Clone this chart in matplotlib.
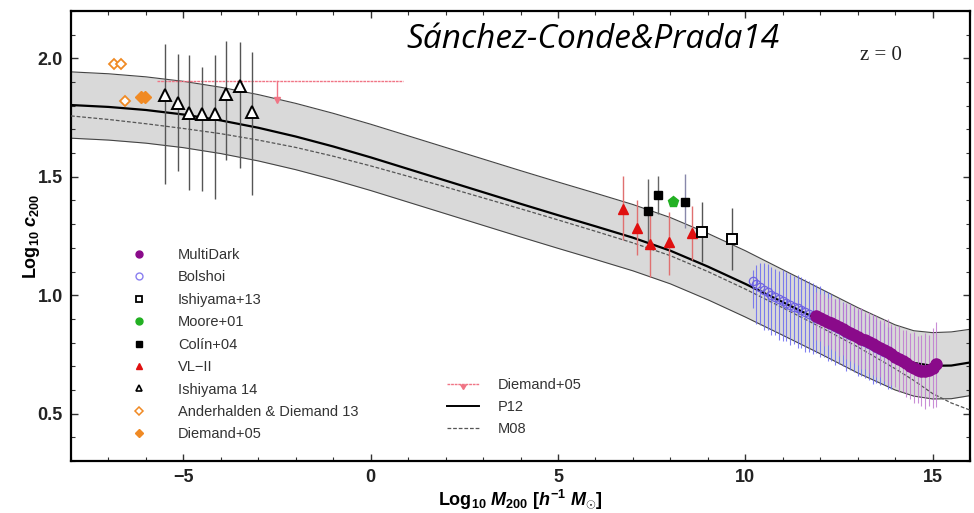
import matplotlib
matplotlib.use("Agg")
import matplotlib.pyplot as plt
from matplotlib.lines import Line2D
import numpy as np

plt.rcParams["font.family"] = ["Liberation Sans", "DejaVu Sans"]
plt.rcParams["mathtext.fontset"] = "custom"
plt.rcParams["mathtext.rm"] = "Liberation Sans:bold"
plt.rcParams["mathtext.it"] = "Liberation Sans:bold:italic"
plt.rcParams["mathtext.bf"] = "Liberation Sans:bold"

# --- model curves: log10 M200 vs log10 c200 ---
model_mass = [-8, -7, -6, -5, -4, -3, -2, -1, 0, 1, 2, 3, 4, 5, 6, 7, 8, 9, 10,
              11, 12, 13, 14, 14.5, 15, 15.5, 16]
p12_c = [1.803, 1.795, 1.782, 1.763, 1.738, 1.707, 1.670, 1.628, 1.582, 1.533,
         1.484, 1.435, 1.386, 1.338, 1.291, 1.243, 1.188, 1.121, 1.048, 0.971,
         0.893, 0.812, 0.740, 0.714, 0.702, 0.703, 0.716]
band_hi = [1.943, 1.935, 1.922, 1.903, 1.878, 1.847, 1.810, 1.768, 1.722, 1.673,
           1.624, 1.575, 1.526, 1.478, 1.431, 1.383, 1.328, 1.261, 1.188, 1.108,
           1.028, 0.948, 0.875, 0.850, 0.842, 0.845, 0.856]
band_lo = [1.663, 1.655, 1.642, 1.623, 1.598, 1.567, 1.530, 1.488, 1.442, 1.393,
           1.344, 1.295, 1.246, 1.198, 1.151, 1.103, 1.048, 0.981, 0.908, 0.831,
           0.753, 0.672, 0.600, 0.574, 0.562, 0.563, 0.576]
m08_c = [1.757, 1.742, 1.724, 1.704, 1.682, 1.655, 1.624, 1.587, 1.546, 1.502,
         1.457, 1.411, 1.365, 1.318, 1.270, 1.221, 1.167, 1.100, 1.026, 0.947,
         0.866, 0.782, 0.690, 0.640, 0.585, 0.545, 0.515]

# --- MultiDark ---
md_mass = [11.9, 12.0, 12.1, 12.2, 12.3, 12.4, 12.5, 12.6, 12.7, 12.8, 12.9, 13.0,
           13.1, 13.2, 13.3, 13.4, 13.5, 13.6, 13.7, 13.8, 13.9, 14.0, 14.1, 14.2,
           14.3, 14.4, 14.5, 14.6, 14.7, 14.8, 14.9, 15.0, 15.1]
md_c = [0.912, 0.905, 0.897, 0.889, 0.881, 0.873, 0.865, 0.857, 0.849, 0.841, 0.833,
        0.825, 0.817, 0.809, 0.801, 0.792, 0.784, 0.776, 0.768, 0.759, 0.750, 0.741,
        0.732, 0.722, 0.712, 0.702, 0.693, 0.686, 0.682, 0.681, 0.684, 0.692, 0.708]
md_err = [0.10, 0.10, 0.11, 0.10, 0.11, 0.11, 0.12, 0.11, 0.12, 0.12, 0.12, 0.12,
          0.13, 0.12, 0.13, 0.13, 0.13, 0.12, 0.13, 0.14, 0.13, 0.13, 0.14, 0.13,
          0.14, 0.14, 0.15, 0.14, 0.15, 0.16, 0.15, 0.17, 0.18]

# --- Bolshoi ---
bol_mass = [10.2, 10.3, 10.4, 10.5, 10.6, 10.7, 10.8, 10.9, 11.0, 11.1, 11.2, 11.3,
            11.4, 11.5, 11.6, 11.7, 11.8, 11.9, 12.0, 12.1, 12.2, 12.3, 12.4, 12.5,
            12.6, 12.7, 12.8, 12.9, 13.0, 13.1, 13.2, 13.3, 13.4, 13.5, 13.6, 13.7,
            13.8, 13.9]
bol_c = [1.058, 1.048, 1.036, 1.024, 1.012, 1.001, 0.991, 0.983, 0.975, 0.967, 0.960,
         0.952, 0.946, 0.938, 0.930, 0.921, 0.913, 0.905, 0.898, 0.890, 0.882, 0.874,
         0.866, 0.858, 0.850, 0.842, 0.834, 0.826, 0.818, 0.810, 0.802, 0.794, 0.786,
         0.778, 0.770, 0.762, 0.754, 0.746]
bol_err_lo = [0.11, 0.17, 0.16, 0.17, 0.16, 0.17, 0.16, 0.17, 0.17, 0.16, 0.17, 0.16,
              0.17, 0.16, 0.17, 0.16, 0.16, 0.15, 0.16, 0.15, 0.16, 0.15, 0.16, 0.15,
              0.15, 0.16, 0.15, 0.15, 0.16, 0.15, 0.15, 0.15, 0.16, 0.15, 0.15, 0.14,
              0.15, 0.14]
bol_err_hi = [0.05, 0.08, 0.10, 0.11, 0.12, 0.12, 0.12, 0.12, 0.13, 0.13, 0.13, 0.13,
              0.14, 0.14, 0.14, 0.14, 0.14, 0.14, 0.14, 0.13, 0.13, 0.13, 0.12, 0.13,
              0.12, 0.12, 0.13, 0.12, 0.12, 0.13, 0.12, 0.12, 0.13, 0.12, 0.12, 0.12,
              0.11, 0.12]

# --- Ishiyama+13 ---
ish13_mass = [8.84, 9.64]
ish13_c = [1.269, 1.239]
ish13_lo = [1.142, 1.107]
ish13_hi = [1.394, 1.368]

# --- Moore+01 ---
moore_mass = [8.06]
moore_c = [1.394]

# --- Colin+04 ---
colin_mass = [7.40, 7.68, 8.38]
colin_c = [1.356, 1.423, 1.395]
colin_lo = [1.22, 1.345, 1.282]
colin_hi = [1.492, 1.505, 1.513]

# --- VL-II ---
vl2_mass = [6.74, 7.10, 7.47, 7.97, 8.59]
vl2_c = [1.366, 1.285, 1.216, 1.223, 1.264]
vl2_lo = [1.233, 1.170, 1.079, 1.086, 1.149]
vl2_hi = [1.505, 1.404, 1.359, 1.352, 1.376]

# --- Ishiyama 14 ---
ish14_mass = [-5.49, -5.15, -4.85, -4.50, -4.16, -3.85, -3.50, -3.16]
ish14_c = [1.845, 1.813, 1.771, 1.767, 1.767, 1.850, 1.883, 1.775]
ish14_lo = [1.471, 1.523, 1.445, 1.440, 1.408, 1.571, 1.538, 1.422]
ish14_hi = [2.060, 2.020, 2.013, 1.965, 2.016, 2.075, 2.071, 2.029]

# --- Anderhalden & Diemand 13 ---
ad13_mass = [-6.84, -6.66, -6.55]
ad13_c = [1.976, 1.976, 1.822]

# --- Diemand+05 ---
d05_mass = [-6.14, -6.02]
d05_c = [1.837, 1.837]
d05_lim_mass = [-5.7, 0.85]
d05_lim_c = 1.905
d05_arrow_mass = -2.5
d05_arrow_tip = 1.825

fig = plt.figure(figsize=(9.74, 5.13), dpi=100)
ax = fig.add_axes([71 / 974, 1 - 461 / 513, 899 / 974, 450 / 513])

ax.fill_between(model_mass, band_lo, band_hi, color="#d9d9d9", lw=0, zorder=1)
ax.plot(model_mass, band_hi, color="#444444", lw=0.8, zorder=2)
ax.plot(model_mass, band_lo, color="#444444", lw=0.8, zorder=2)
ax.plot(model_mass, p12_c, color="black", lw=1.6, zorder=3)
ax.plot(model_mass, m08_c, color="#555555", lw=0.9, ls=(0, (3, 1.5)), zorder=3)

# Diemand+05 upper limit
pink = "#f07585"
ax.plot(d05_lim_mass, [d05_lim_c, d05_lim_c], color=pink, lw=1.0,
        ls=(0, (2, 0.6)), zorder=4)
ax.plot([d05_arrow_mass, d05_arrow_mass], [d05_lim_c, d05_arrow_tip],
        color=pink, lw=1.0, zorder=4)
ax.plot([d05_arrow_mass], [d05_arrow_tip], marker="v", color=pink, ms=5,
        ls="none", zorder=4)


def asym(c, lo, hi):
    c = np.asarray(c)
    return [c - np.asarray(lo), np.asarray(hi) - c]


ax.errorbar(bol_mass, bol_c, yerr=[bol_err_lo, bol_err_hi], fmt="none",
            ecolor="#6b6bf0", elinewidth=0.8, alpha=0.85, zorder=5)
ax.errorbar(md_mass, md_c, yerr=md_err, fmt="none", ecolor="#c07ad0",
            elinewidth=0.8, alpha=0.85, zorder=6)
ax.plot(bol_mass, bol_c, "o", mfc="none", mec="#6f63e0", mew=0.9, ms=6, zorder=7)
ax.plot(md_mass, md_c, "o", color="#8a0a8a", ms=8, zorder=8)

ax.errorbar(ish14_mass, ish14_c, yerr=asym(ish14_c, ish14_lo, ish14_hi),
            fmt="none", ecolor="#555555", elinewidth=1.0, zorder=5)
ax.plot(ish14_mass, ish14_c, "^", mfc="white", mec="black", mew=1.4, ms=8, zorder=8)

ax.errorbar(vl2_mass, vl2_c, yerr=asym(vl2_c, vl2_lo, vl2_hi),
            fmt="none", ecolor="#e07070", elinewidth=1.0, zorder=5)
ax.errorbar(colin_mass, colin_c, yerr=asym(colin_c, colin_lo, colin_hi),
            fmt="none", ecolor=["#666666", "#666666", "#8888aa"],
            elinewidth=1.0, zorder=5)
ax.errorbar(ish13_mass, ish13_c, yerr=asym(ish13_c, ish13_lo, ish13_hi),
            fmt="none", ecolor="#555555", elinewidth=1.0, zorder=5)

ax.plot(vl2_mass, vl2_c, "^", color="#e01010", ms=7, zorder=8)
ax.plot(colin_mass, colin_c, "s", color="black", ms=6, zorder=8)
ax.plot(moore_mass, moore_c, "p", color="#22b022", ms=8, zorder=8)
ax.plot(ish13_mass, ish13_c, "s", mfc="white", mec="black", mew=1.4, ms=7, zorder=8)

orange = "#f08a24"
ax.plot(ad13_mass, ad13_c, "D", mfc="white", mec=orange, mew=1.3, ms=5.5, zorder=8)
ax.plot(d05_mass, d05_c, "D", color=orange, ms=6.5, zorder=8)

ax.set_xlim(-8, 16)
ax.set_ylim(0.3, 2.2)
ax.set_xticks([-5, 0, 5, 10, 15])
ax.set_xticks(np.arange(-8, 17, 1), minor=True)
ax.set_yticks([0.5, 1.0, 1.5, 2.0])
ax.set_yticks(np.arange(0.3, 2.21, 0.1), minor=True)
ax.set_xticklabels(["\u22125", "0", "5", "10", "15"])
ax.tick_params(which="both", direction="in", top=True, right=True, color="#333333")
ax.tick_params(which="major", length=5, width=1.0, labelsize=13, pad=6)
ax.tick_params(which="minor", length=3, width=0.8)
for lab in ax.get_xticklabels() + ax.get_yticklabels():
    lab.set_fontweight("bold")
    lab.set_color("#222222")
for sp in ax.spines.values():
    sp.set_linewidth(1.6)

ax.set_xlabel(r"Log$_{10}$ $M_{200}$ [$h^{-1}$ $M_{\odot}$]", fontsize=13,
              fontweight="bold", labelpad=1)
ax.set_ylabel(r"Log$_{10}$ $c_{200}$", fontsize=13, fontweight="bold",
              labelpad=-3)

# data legend
data_handles = [
    Line2D([], [], ls="none", marker="o", color="#8a0a8a", ms=5),
    Line2D([], [], ls="none", marker="o", mfc="none", mec="#8a7ff0", ms=5),
    Line2D([], [], ls="none", marker="s", mfc="white", mec="black", mew=1.3, ms=5),
    Line2D([], [], ls="none", marker="o", color="#22b022", ms=5),
    Line2D([], [], ls="none", marker="s", color="black", ms=5),
    Line2D([], [], ls="none", marker="^", color="#e01010", ms=5),
    Line2D([], [], ls="none", marker="^", mfc="white", mec="black", mew=1.2, ms=5),
    Line2D([], [], ls="none", marker="D", mfc="white", mec=orange, mew=1.1, ms=4),
    Line2D([], [], ls="none", marker="D", color=orange, ms=4),
]
data_labels = ["MultiDark", "Bolshoi", "Ishiyama+13", "Moore+01", "Col\u00edn+04",
               "VL\u2212II", "Ishiyama 14", "Anderhalden & Diemand 13", "Diemand+05"]
fig.legend(data_handles, data_labels, loc="upper left",
           bbox_to_anchor=(126 / 974, 1 - 242 / 513), frameon=False,
           fontsize=10.5, handlelength=1.0, handletextpad=2.15,
           labelspacing=0.58, labelcolor="#333333", borderaxespad=0)

model_handles = [
    Line2D([], [], color=pink, lw=1.0, marker=11, markevery=[1], ms=5,
           ls=(0, (2, 0.6))),
    Line2D([], [], color="black", lw=1.4),
    Line2D([], [], color="#555555", lw=0.9, ls=(0, (3, 1.5))),
]
fig.legend(model_handles, ["Diemand+05", "P12", "M08"], loc="upper left",
           bbox_to_anchor=(441 / 974, 1 - 372 / 513), frameon=False,
           fontsize=10.5, handlelength=2.2, handletextpad=1.3,
           labelspacing=0.55, labelcolor="#333333", borderaxespad=0)

fig.text(406 / 974, 1 - 40 / 513, "S\u00e1nchez-Conde&Prada14", fontsize=24,
         style="italic", family=["Open Sans", "DejaVu Sans"], va="center",
         color="black")
fig.text(860 / 974, 1 - 56 / 513, "z = 0", fontsize=15,
         family=["Liberation Serif", "DejaVu Serif"], va="center", color="#222222")

fig.savefig("out.png", dpi=100)
